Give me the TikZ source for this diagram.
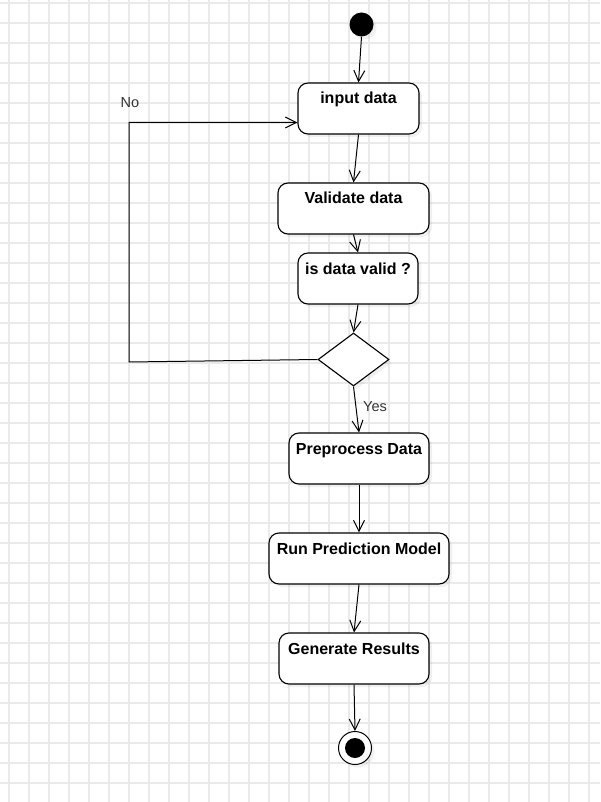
\documentclass[tikz,border=0pt]{standalone}
\usepackage{fontspec}
\setmainfont{Liberation Sans}
\usetikzlibrary{arrows.meta,shapes.geometric,shadows}
\definecolor{mygrid}{RGB}{234,234,234}
\definecolor{mylabel}{RGB}{51,51,51}

\tikzset{
    myshadow/.style={drop shadow={shadow xshift=3pt, shadow yshift=-3pt, opacity=0.12}},
    action/.style={draw, rounded corners=10pt, fill=white, line width=1.1pt,
        inner xsep=0pt, inner ysep=0pt, text height=21pt, text depth=30pt,
        font=\bfseries\fontsize{16}{19}\selectfont, myshadow},
    decision/.style={draw, diamond, fill=white, line width=1.1pt, inner sep=0pt,
        minimum width=71pt, minimum height=53pt, myshadow},
    initial/.style={circle, fill=black, inner sep=0pt, minimum size=24pt, myshadow},
    final/.style={circle, draw, fill=white, line width=1pt, inner sep=0pt,
        minimum size=33pt, myshadow},
    flow/.style={-{Straight Barb[length=11pt,width=11pt]}, line width=1pt},
    guard/.style={text=mylabel, font=\fontsize{14.5}{17}\selectfont, inner sep=0pt}
}

\begin{document}
\begin{tikzpicture}[x=1pt, y=-1pt]
    \useasboundingbox (0,0) rectangle (600,802);
    % Grid
    \foreach \gx in {9,29,...,589}
        \draw[mygrid, line width=1.2pt] (\gx,0) -- (\gx,802);
    \foreach \gy in {3,23,...,802}
        \draw[mygrid, line width=1.2pt] (0,\gy) -- (600,\gy);

    % Activities
    \node[initial] (Start) at (361.5,24.5) {};
    \node[action, minimum width=121pt] (InputData) at (358.5,108.5) {input data};
    \node[action, minimum width=151pt] (Validate) at (353.5,208.5) {Validate data};
    \node[action, minimum width=120pt] (IsValid) at (358,278.5) {is data valid ?};
    \node[decision] (Decision) at (353.5,359.5) {};
    \node[action, minimum width=140pt] (Preprocess) at (359,458.5) {Preprocess Data};
    \node[action, minimum width=180pt] (RunModel) at (359,558.5) {Run Prediction Model};
    \node[action, minimum width=150pt] (Results) at (354,658.5) {Generate Results};
    \node[final] (End) at (355,748) {};
    \fill (End) circle (10);

    % Flow
    \draw[flow] (Start.south) -- (InputData.north);
    \draw[flow] (InputData.south) -- (Validate.north);
    \draw[flow] (Validate.south) -- (IsValid.north);
    \draw[flow] (IsValid.south) -- (Decision.north);
    \draw[flow] (Decision.south) -- (Preprocess.north);
    \draw[flow] (Preprocess.south) -- (RunModel.north);
    \draw[flow] (RunModel.south) -- (Results.north);
    \draw[flow] (Results.south) -- (End.north);

    % Back loop
    \coordinate (NoBottom) at (129,362);
    \coordinate (NoTop) at (129,122.5);
    \draw[flow] (Decision.west) -- (NoBottom) -- (NoTop) -- (InputData.west |- NoTop);

    % Guards
    \node[guard] (NoLabel) at (130,103) {No};
    \node[guard] (YesLabel) at (375,407) {Yes};
\end{tikzpicture}
\end{document}
